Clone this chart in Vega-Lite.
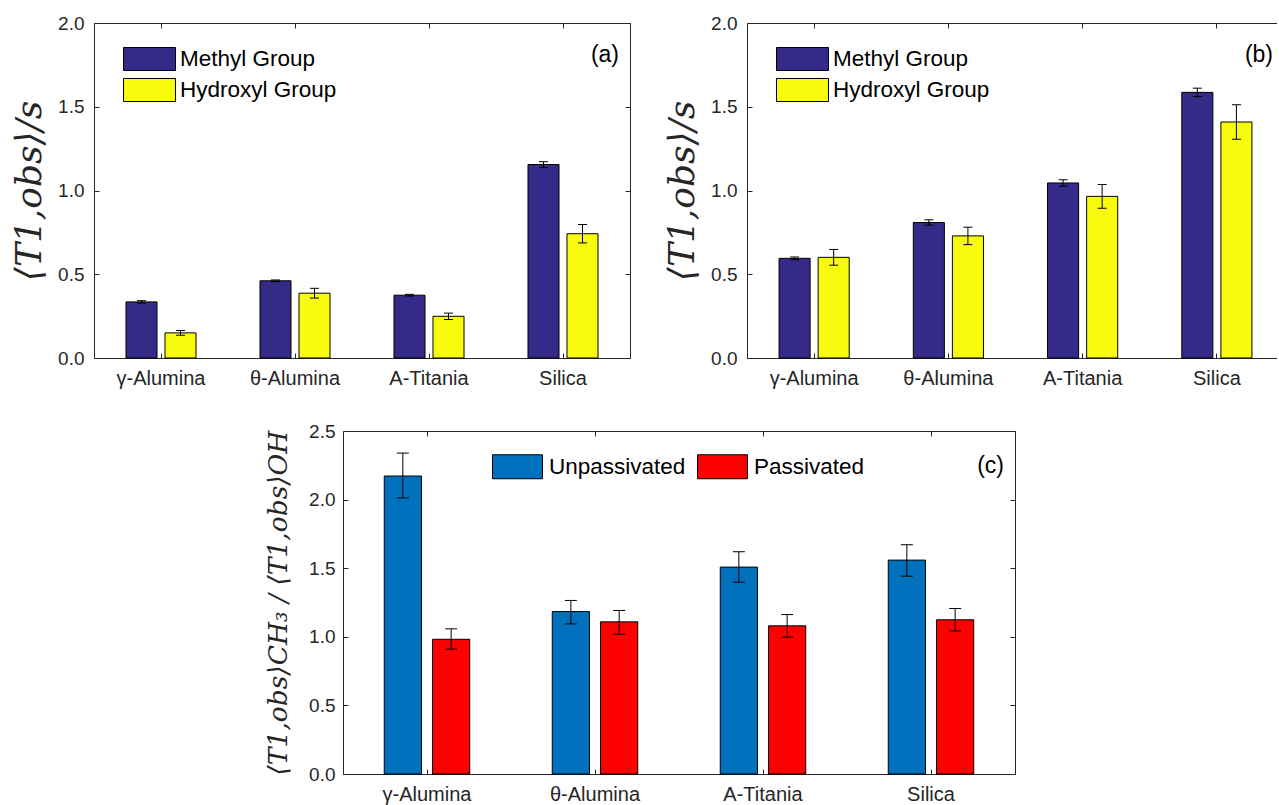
{
  "$schema": "https://vega.github.io/schema/vega-lite/v6.json",
  "padding": {"left": 11, "top": 13, "right": -8, "bottom": 0},
  "background": "white",
  "datasets": {
    "bars": [
      {"panel": "a", "material": "γ-Alumina", "group": "Methyl Group", "value": 0.335, "lo": 0.328, "hi": 0.342},
      {"panel": "a", "material": "γ-Alumina", "group": "Hydroxyl Group", "value": 0.150, "lo": 0.136, "hi": 0.164},
      {"panel": "a", "material": "θ-Alumina", "group": "Methyl Group", "value": 0.461, "lo": 0.456, "hi": 0.466},
      {"panel": "a", "material": "θ-Alumina", "group": "Hydroxyl Group", "value": 0.387, "lo": 0.358, "hi": 0.416},
      {"panel": "a", "material": "A-Titania", "group": "Methyl Group", "value": 0.375, "lo": 0.370, "hi": 0.380},
      {"panel": "a", "material": "A-Titania", "group": "Hydroxyl Group", "value": 0.249, "lo": 0.230, "hi": 0.268},
      {"panel": "a", "material": "Silica", "group": "Methyl Group", "value": 1.155, "lo": 1.138, "hi": 1.172},
      {"panel": "a", "material": "Silica", "group": "Hydroxyl Group", "value": 0.742, "lo": 0.687, "hi": 0.797},
      {"panel": "b", "material": "γ-Alumina", "group": "Methyl Group", "value": 0.595, "lo": 0.587, "hi": 0.603},
      {"panel": "b", "material": "γ-Alumina", "group": "Hydroxyl Group", "value": 0.601, "lo": 0.554, "hi": 0.648},
      {"panel": "b", "material": "θ-Alumina", "group": "Methyl Group", "value": 0.809, "lo": 0.793, "hi": 0.825},
      {"panel": "b", "material": "θ-Alumina", "group": "Hydroxyl Group", "value": 0.729, "lo": 0.677, "hi": 0.781},
      {"panel": "b", "material": "A-Titania", "group": "Methyl Group", "value": 1.045, "lo": 1.026, "hi": 1.064},
      {"panel": "b", "material": "A-Titania", "group": "Hydroxyl Group", "value": 0.965, "lo": 0.894, "hi": 1.036},
      {"panel": "b", "material": "Silica", "group": "Methyl Group", "value": 1.586, "lo": 1.561, "hi": 1.611},
      {"panel": "b", "material": "Silica", "group": "Hydroxyl Group", "value": 1.409, "lo": 1.306, "hi": 1.512},
      {"panel": "c", "material": "γ-Alumina", "group": "Unpassivated", "value": 2.172, "lo": 2.012, "hi": 2.339},
      {"panel": "c", "material": "γ-Alumina", "group": "Passivated", "value": 0.982, "lo": 0.910, "hi": 1.058},
      {"panel": "c", "material": "θ-Alumina", "group": "Unpassivated", "value": 1.184, "lo": 1.094, "hi": 1.265},
      {"panel": "c", "material": "θ-Alumina", "group": "Passivated", "value": 1.109, "lo": 1.019, "hi": 1.192},
      {"panel": "c", "material": "A-Titania", "group": "Unpassivated", "value": 1.508, "lo": 1.398, "hi": 1.620},
      {"panel": "c", "material": "A-Titania", "group": "Passivated", "value": 1.080, "lo": 0.997, "hi": 1.162},
      {"panel": "c", "material": "Silica", "group": "Unpassivated", "value": 1.559, "lo": 1.442, "hi": 1.671},
      {"panel": "c", "material": "Silica", "group": "Passivated", "value": 1.124, "lo": 1.043, "hi": 1.206}
    ],
    "tags": [
      {"panel": "a", "tag": "(a)", "material": "Silica", "ty": 1.81},
      {"panel": "b", "tag": "(b)", "material": "Silica", "ty": 1.81},
      {"panel": "c", "tag": "(c)", "material": "Silica", "ty": 2.245}
    ],
    "blank": [{"k": 1}]
  },
  "config": {
    "view": {"stroke": "#262626", "strokeWidth": 1},
    "font": "Liberation Sans",
    "axis": {
      "labelFont": "Liberation Sans", "labelFontSize": 19, "labelColor": "#262626",
      "tickColor": "#262626", "tickWidth": 1, "domain": false, "grid": false,
      "titleFont": "DejaVu Serif", "titleFontStyle": "italic", "titleFontWeight": "normal", "titleColor": "#262626"
    },
    "legend": {
      "labelFont": "Liberation Sans", "labelColor": "#000000", "padding": 0,
      "symbolStrokeColor": "#000000", "symbolStrokeWidth": 1, "symbolOpacity": 1
    }
  },
  "spacing": 32,
  "resolve": {"scale": {"x": "independent", "y": "independent", "color": "independent", "xOffset": "independent"}, "legend": {"color": "independent"}},
  "vconcat": [
    {
      "spacing": 33,
      "resolve": {"scale": {"x": "independent", "y": "independent", "color": "independent", "xOffset": "independent"}, "legend": {"color": "independent"}},
      "hconcat": [
        {
          "width": 536, "height": 335,
          "resolve": {"axis": {"x": "independent", "y": "independent"}},
          "layer": [
            {
              "data": {"name": "bars"},
              "transform": [{"filter": "datum.panel == 'a'"}],
              "mark": {"type": "bar", "stroke": "#000000", "strokeWidth": 1},
              "encoding": {
                "x": {"field": "material", "type": "nominal", "sort": ["γ-Alumina", "θ-Alumina", "A-Titania", "Silica"], "scale": {"paddingInner": 0, "paddingOuter": 0},
                      "axis": {"title": null, "labelAngle": 0, "tickSize": -5, "labelPadding": 15, "labelFontSize": 20, "orient": "bottom"}},
                "xOffset": {"field": "group", "type": "nominal", "sort": ["Methyl Group", "Hydroxyl Group"], "scale": {"paddingInner": 0.205, "paddingOuter": 0.82}},
                "y": {"field": "value", "type": "quantitative", "scale": {"domain": [0, 2]},
                      "axis": {"orient": "left", "values": [0, 0.5, 1, 1.5, 2], "format": ".1f", "title": "⟨T1,obs⟩/s", "titleFontSize": 36, "titlePadding": 9, "tickSize": -5, "labelPadding": 15}},
                "color": {"field": "group", "type": "nominal", "scale": {"domain": ["Methyl Group", "Hydroxyl Group"], "range": ["#352a87", "#f9fb0e"]},
                          "legend": {"title": null, "orient": "none", "legendX": 43.5, "legendY": 24, "direction": "vertical",
                                     "symbolType": "M-2.26,-1H2.26V1H-2.26Z", "symbolSize": 529, "labelFontSize": 22.5, "labelOffset": 18.5, "rowPadding": 3}}
              }
            },
            {
              "data": {"name": "bars"},
              "transform": [{"filter": "datum.panel == 'a'"}],
              "mark": {"type": "rule", "color": "#000000", "strokeWidth": 1},
              "encoding": {
                "x": {"field": "material", "type": "nominal", "sort": ["γ-Alumina", "θ-Alumina", "A-Titania", "Silica"],
                      "axis": {"orient": "top", "labels": false, "title": null, "tickSize": -5}},
                "xOffset": {"field": "group", "type": "nominal", "sort": ["Methyl Group", "Hydroxyl Group"], "scale": {"paddingInner": 0.205, "paddingOuter": 0.82}},
                "y": {"field": "lo", "type": "quantitative", "scale": {"domain": [0, 2]},
                      "axis": {"orient": "right", "labels": false, "title": null, "tickSize": -5, "values": [0, 0.5, 1, 1.5, 2]}},
                "y2": {"field": "hi"}
              }
            },
            {
              "data": {"name": "bars"},
              "transform": [{"filter": "datum.panel == 'a'"}],
              "mark": {"type": "tick", "color": "#000000", "thickness": 1, "size": 9, "opacity": 1},
              "encoding": {
                "x": {"field": "material", "type": "nominal", "sort": ["γ-Alumina", "θ-Alumina", "A-Titania", "Silica"], "axis": null},
                "xOffset": {"field": "group", "type": "nominal", "sort": ["Methyl Group", "Hydroxyl Group"], "scale": {"paddingInner": 0.205, "paddingOuter": 0.82}},
                "y": {"field": "lo", "type": "quantitative", "scale": {"domain": [0, 2]}, "axis": null}
              }
            },
            {
              "data": {"name": "bars"},
              "transform": [{"filter": "datum.panel == 'a'"}],
              "mark": {"type": "tick", "color": "#000000", "thickness": 1, "size": 9, "opacity": 1},
              "encoding": {
                "x": {"field": "material", "type": "nominal", "sort": ["γ-Alumina", "θ-Alumina", "A-Titania", "Silica"], "axis": null},
                "xOffset": {"field": "group", "type": "nominal", "sort": ["Methyl Group", "Hydroxyl Group"], "scale": {"paddingInner": 0.205, "paddingOuter": 0.82}},
                "y": {"field": "hi", "type": "quantitative", "scale": {"domain": [0, 2]}, "axis": null}
              }
            },
            {
              "data": {"name": "tags"},
              "transform": [{"filter": "datum.panel == 'a'"}],
              "mark": {"type": "text", "align": "right", "baseline": "middle", "dx": -11, "fontSize": 23, "font": "Liberation Sans", "color": "#000000"},
              "encoding": {
                "x": {"field": "material", "type": "nominal", "sort": ["γ-Alumina", "θ-Alumina", "A-Titania", "Silica"], "bandPosition": 1, "axis": null},
                "y": {"field": "ty", "type": "quantitative", "scale": {"domain": [0, 2]}, "axis": null},
                "text": {"field": "tag"}
              }
            }
          ]
        },
        {
          "width": 537, "height": 335,
          "resolve": {"axis": {"x": "independent", "y": "independent"}},
          "layer": [
            {
              "data": {"name": "bars"},
              "transform": [{"filter": "datum.panel == 'b'"}],
              "mark": {"type": "bar", "stroke": "#000000", "strokeWidth": 1},
              "encoding": {
                "x": {"field": "material", "type": "nominal", "sort": ["γ-Alumina", "θ-Alumina", "A-Titania", "Silica"], "scale": {"paddingInner": 0, "paddingOuter": 0},
                      "axis": {"title": null, "labelAngle": 0, "tickSize": -5, "labelPadding": 15, "labelFontSize": 20, "orient": "bottom"}},
                "xOffset": {"field": "group", "type": "nominal", "sort": ["Methyl Group", "Hydroxyl Group"], "scale": {"paddingInner": 0.205, "paddingOuter": 0.82}},
                "y": {"field": "value", "type": "quantitative", "scale": {"domain": [0, 2]},
                      "axis": {"orient": "left", "values": [0, 0.5, 1, 1.5, 2], "format": ".1f", "title": "⟨T1,obs⟩/s", "titleFontSize": 36, "titlePadding": 9, "tickSize": -5, "labelPadding": 15}},
                "color": {"field": "group", "type": "nominal", "scale": {"domain": ["Methyl Group", "Hydroxyl Group"], "range": ["#352a87", "#f9fb0e"]},
                          "legend": {"title": null, "orient": "none", "legendX": 43.5, "legendY": 24, "direction": "vertical",
                                     "symbolType": "M-2.26,-1H2.26V1H-2.26Z", "symbolSize": 529, "labelFontSize": 22.5, "labelOffset": 18.5, "rowPadding": 3}}
              }
            },
            {
              "data": {"name": "bars"},
              "transform": [{"filter": "datum.panel == 'b'"}],
              "mark": {"type": "rule", "color": "#000000", "strokeWidth": 1},
              "encoding": {
                "x": {"field": "material", "type": "nominal", "sort": ["γ-Alumina", "θ-Alumina", "A-Titania", "Silica"],
                      "axis": {"orient": "top", "labels": false, "title": null, "tickSize": -5}},
                "xOffset": {"field": "group", "type": "nominal", "sort": ["Methyl Group", "Hydroxyl Group"], "scale": {"paddingInner": 0.205, "paddingOuter": 0.82}},
                "y": {"field": "lo", "type": "quantitative", "scale": {"domain": [0, 2]},
                      "axis": {"orient": "right", "labels": false, "title": null, "tickSize": -5, "values": [0, 0.5, 1, 1.5, 2]}},
                "y2": {"field": "hi"}
              }
            },
            {
              "data": {"name": "bars"},
              "transform": [{"filter": "datum.panel == 'b'"}],
              "mark": {"type": "tick", "color": "#000000", "thickness": 1, "size": 9, "opacity": 1},
              "encoding": {
                "x": {"field": "material", "type": "nominal", "sort": ["γ-Alumina", "θ-Alumina", "A-Titania", "Silica"], "axis": null},
                "xOffset": {"field": "group", "type": "nominal", "sort": ["Methyl Group", "Hydroxyl Group"], "scale": {"paddingInner": 0.205, "paddingOuter": 0.82}},
                "y": {"field": "lo", "type": "quantitative", "scale": {"domain": [0, 2]}, "axis": null}
              }
            },
            {
              "data": {"name": "bars"},
              "transform": [{"filter": "datum.panel == 'b'"}],
              "mark": {"type": "tick", "color": "#000000", "thickness": 1, "size": 9, "opacity": 1},
              "encoding": {
                "x": {"field": "material", "type": "nominal", "sort": ["γ-Alumina", "θ-Alumina", "A-Titania", "Silica"], "axis": null},
                "xOffset": {"field": "group", "type": "nominal", "sort": ["Methyl Group", "Hydroxyl Group"], "scale": {"paddingInner": 0.205, "paddingOuter": 0.82}},
                "y": {"field": "hi", "type": "quantitative", "scale": {"domain": [0, 2]}, "axis": null}
              }
            },
            {
              "data": {"name": "tags"},
              "transform": [{"filter": "datum.panel == 'b'"}],
              "mark": {"type": "text", "align": "right", "baseline": "middle", "dx": -11, "fontSize": 23, "font": "Liberation Sans", "color": "#000000"},
              "encoding": {
                "x": {"field": "material", "type": "nominal", "sort": ["γ-Alumina", "θ-Alumina", "A-Titania", "Silica"], "bandPosition": 1, "axis": null},
                "y": {"field": "ty", "type": "quantitative", "scale": {"domain": [0, 2]}, "axis": null},
                "text": {"field": "tag"}
              }
            }
          ]
        }
      ]
    },
    {
      "spacing": 0,
      "resolve": {"scale": {"x": "independent", "y": "independent", "color": "independent", "xOffset": "independent"}, "legend": {"color": "independent"}},
      "hconcat": [
        {
          "width": 171, "height": 1,
          "view": {"stroke": null},
          "data": {"name": "blank"},
          "mark": {"type": "rule", "opacity": 0},
          "encoding": {}
        },
        {
          "width": 672, "height": 343,
          "resolve": {"axis": {"x": "independent", "y": "independent"}},
          "layer": [
            {
              "data": {"name": "bars"},
              "transform": [{"filter": "datum.panel == 'c'"}],
              "mark": {"type": "bar", "stroke": "#000000", "strokeWidth": 1},
              "encoding": {
                "x": {"field": "material", "type": "nominal", "sort": ["γ-Alumina", "θ-Alumina", "A-Titania", "Silica"], "scale": {"paddingInner": 0, "paddingOuter": 0},
                      "axis": {"title": null, "labelAngle": 0, "tickSize": -5, "labelPadding": 15, "labelFontSize": 20, "orient": "bottom"}},
                "xOffset": {"field": "group", "type": "nominal", "sort": ["Unpassivated", "Passivated"], "scale": {"paddingInner": 0.23, "paddingOuter": 0.854}},
                "y": {"field": "value", "type": "quantitative", "scale": {"domain": [0, 2.5]},
                      "axis": {"orient": "left", "values": [0, 0.5, 1, 1.5, 2, 2.5], "format": ".1f", "title": "⟨T1,obs⟩CH₃ / ⟨T1,obs⟩OH", "titleFontSize": 26.5, "titlePadding": 16, "tickSize": -5, "labelPadding": 13}},
                "color": {"field": "group", "type": "nominal", "scale": {"domain": ["Unpassivated", "Passivated"], "range": ["#0072bd", "#ff0000"]},
                          "legend": {"title": null, "orient": "none", "legendX": 162, "legendY": 23, "direction": "horizontal",
                                     "symbolType": "M-2.083,-1H2.083V1H-2.083Z", "symbolSize": 576, "labelFontSize": 22.5, "labelOffset": 19, "columnPadding": 9}}
              }
            },
            {
              "data": {"name": "bars"},
              "transform": [{"filter": "datum.panel == 'c'"}],
              "mark": {"type": "rule", "color": "#000000", "strokeWidth": 1},
              "encoding": {
                "x": {"field": "material", "type": "nominal", "sort": ["γ-Alumina", "θ-Alumina", "A-Titania", "Silica"],
                      "axis": {"orient": "top", "labels": false, "title": null, "tickSize": -5}},
                "xOffset": {"field": "group", "type": "nominal", "sort": ["Unpassivated", "Passivated"], "scale": {"paddingInner": 0.23, "paddingOuter": 0.854}},
                "y": {"field": "lo", "type": "quantitative", "scale": {"domain": [0, 2.5]},
                      "axis": {"orient": "right", "labels": false, "title": null, "tickSize": -5, "values": [0, 0.5, 1, 1.5, 2, 2.5]}},
                "y2": {"field": "hi"}
              }
            },
            {
              "data": {"name": "bars"},
              "transform": [{"filter": "datum.panel == 'c'"}],
              "mark": {"type": "tick", "color": "#000000", "thickness": 1, "size": 12, "opacity": 1},
              "encoding": {
                "x": {"field": "material", "type": "nominal", "sort": ["γ-Alumina", "θ-Alumina", "A-Titania", "Silica"], "axis": null},
                "xOffset": {"field": "group", "type": "nominal", "sort": ["Unpassivated", "Passivated"], "scale": {"paddingInner": 0.23, "paddingOuter": 0.854}},
                "y": {"field": "lo", "type": "quantitative", "scale": {"domain": [0, 2.5]}, "axis": null}
              }
            },
            {
              "data": {"name": "bars"},
              "transform": [{"filter": "datum.panel == 'c'"}],
              "mark": {"type": "tick", "color": "#000000", "thickness": 1, "size": 12, "opacity": 1},
              "encoding": {
                "x": {"field": "material", "type": "nominal", "sort": ["γ-Alumina", "θ-Alumina", "A-Titania", "Silica"], "axis": null},
                "xOffset": {"field": "group", "type": "nominal", "sort": ["Unpassivated", "Passivated"], "scale": {"paddingInner": 0.23, "paddingOuter": 0.854}},
                "y": {"field": "hi", "type": "quantitative", "scale": {"domain": [0, 2.5]}, "axis": null}
              }
            },
            {
              "data": {"name": "tags"},
              "transform": [{"filter": "datum.panel == 'c'"}],
              "mark": {"type": "text", "align": "right", "baseline": "middle", "dx": -11, "fontSize": 23, "font": "Liberation Sans", "color": "#000000"},
              "encoding": {
                "x": {"field": "material", "type": "nominal", "sort": ["γ-Alumina", "θ-Alumina", "A-Titania", "Silica"], "bandPosition": 1, "axis": null},
                "y": {"field": "ty", "type": "quantitative", "scale": {"domain": [0, 2.5]}, "axis": null},
                "text": {"field": "tag"}
              }
            }
          ]
        }
      ]
    }
  ]
}
